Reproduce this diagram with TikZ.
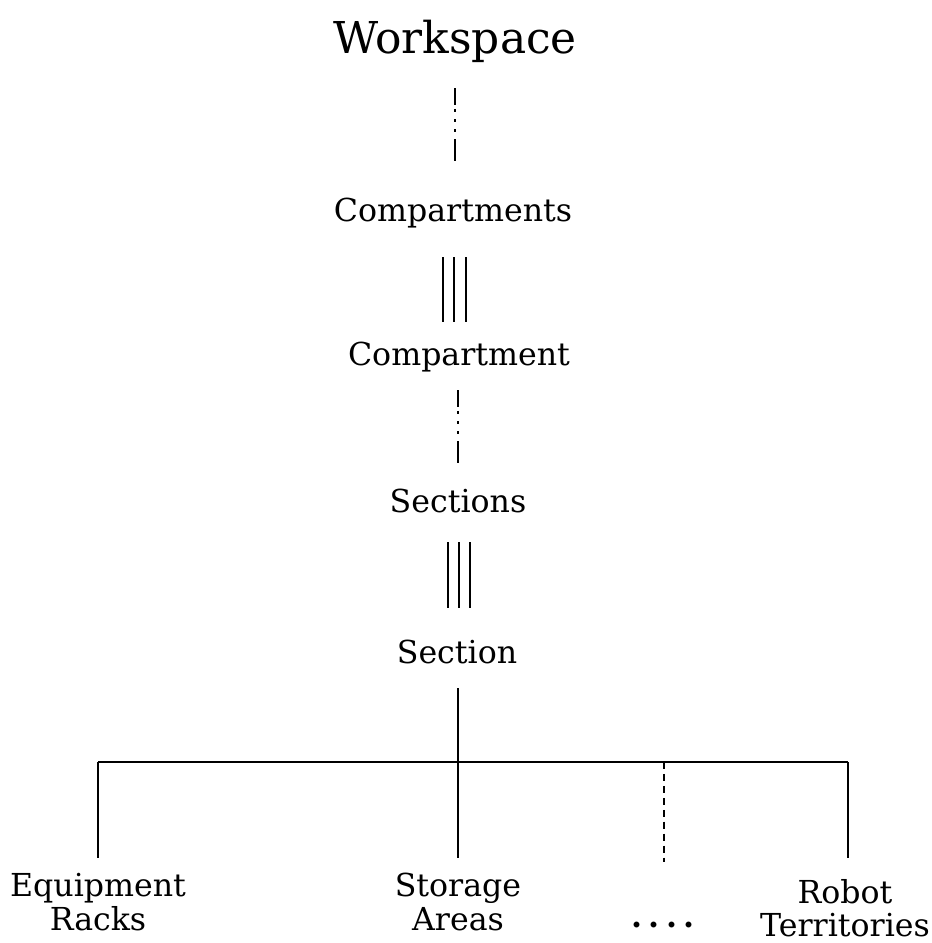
\documentclass[tikz,border=0pt]{standalone}
\usepackage{fontspec}
\setmainfont{DejaVu Serif}
\begin{document}
\begin{tikzpicture}[x=0.02cm,y=-0.02cm,
  label/.style={inner sep=0pt,font=\fontsize{18}{19}\selectfont,anchor=base},
  multi/.style={inner sep=0pt,font=\fontsize{18}{19}\selectfont,align=center,anchor=north},
  tree/.style={line width=1.5pt},
  bar/.style={line width=1.3pt},
  dashdot/.style={line width=1.5pt,dash pattern=on 9.6pt off 2.3pt on 1.8pt off 4pt on 1.8pt off 4pt on 1.8pt off 4pt on 12pt},
  dotted line/.style={line width=1.5pt,dash pattern=on 4pt off 2.8pt}]
\useasboundingbox (0,0) rectangle (931,943);

% hierarchy labels
\node[label,font=\fontsize{25}{28}\selectfont] (ws) at (455,53) {Workspace};
\node[label] (cmps) at (453,221) {Compartments};
\node[label] (cmp) at (459,365) {Compartment};
\node[label] (secs) at (458,512) {Sections};
\node[label] (sec) at (457,663) {Section};

% leaf labels
\node[multi] (equip) at (98,873) {Equipment\\Racks};
\node[multi] (store) at (458,873) {Storage\\Areas};
\node[multi] (robot) at (845,879) {Robot\\Territories};
\node[label,font=\fontsize{18}{19}\bfseries\addfontfeature{LetterSpace=20}] (more) at (663,927) {....};

% workspace -> compartments
\coordinate (a1) at (455,88);
\coordinate (a2) at (455,162);
\draw[dashdot] (a1) -- (a2);

% compartments -> compartment (multiple)
\foreach \x in {443,454,466}{
  \coordinate (b1) at (\x,257);
  \coordinate (b2) at (\x,322);
  \draw[bar] (b1) -- (b2);
}

% compartment -> sections
\coordinate (c1) at (458,390);
\coordinate (c2) at (458,463);
\draw[dashdot] (c1) -- (c2);

% sections -> section (multiple)
\foreach \x in {448,459,470}{
  \coordinate (d1) at (\x,542);
  \coordinate (d2) at (\x,608);
  \draw[bar] (d1) -- (d2);
}

% section -> parts
\coordinate (stem) at (458,688);
\coordinate (hub) at (458,762);
\coordinate (hl) at (98,762);
\coordinate (hr) at (848,762);
\coordinate (hd) at (664,762);
\draw[tree] (stem) -- (hub);
\draw[tree] (hl) -- (hr);
\draw[tree] (hl) -- (98,858);
\draw[tree] (hub) -- (458,858);
\draw[tree] (hr) -- (848,858);
\draw[dotted line] (hd) -- (664,862);
\end{tikzpicture}
\end{document}
